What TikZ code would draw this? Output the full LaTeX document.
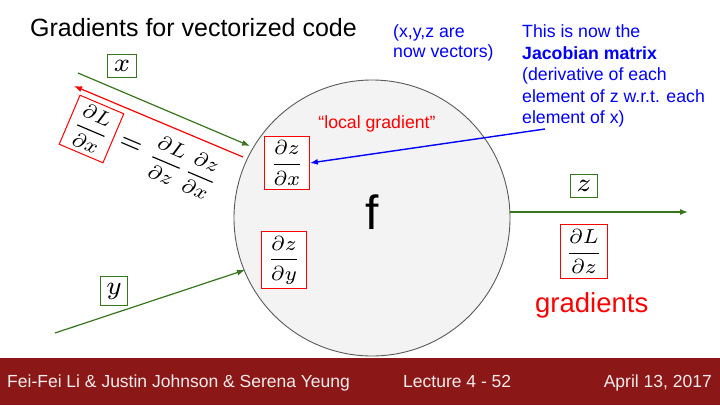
\RequirePackage{fix-cm}
\documentclass[tikz,border=0pt]{standalone}
\usepackage[no-math]{fontspec}
\setmainfont{Liberation Sans}
\usetikzlibrary{arrows.meta}
\definecolor{gr}{RGB}{56,118,29}
\definecolor{rd}{RGB}{255,0,0}
\definecolor{bl}{RGB}{0,0,255}
\definecolor{foot}{RGB}{140,23,23}
\definecolor{circfill}{RGB}{243,243,243}
\definecolor{circline}{RGB}{90,90,90}
\definecolor{foottext}{RGB}{242,236,236}
\newcommand{\myfrac}[2]{\scalebox{2.9}{\fontsize{7}{8}\selectfont$\displaystyle\frac{#1}{#2}$}}
\newcommand{\myvar}[1]{\scalebox{3.7}{\fontsize{7}{8}\selectfont$#1$}}
\tikzset{
  varbox/.style={draw=gr, line width=1pt, inner xsep=6pt, inner ysep=6pt, fill=white},
  fracbox/.style={draw=rd, line width=1pt, inner xsep=5.5pt, inner ysep=4.5pt, fill=white},
  plainfrac/.style={inner sep=0pt},
  garrow/.style={draw=gr, line width=1.2pt, -{Latex[length=8pt,width=6pt]}},
  rarrow/.style={draw=rd, line width=1.2pt, -{Latex[length=8pt,width=6pt]}},
  barrow/.style={draw=bl, line width=1.4pt, -{Latex[length=8pt,width=6pt]}},
  bluetxt/.style={anchor=base west, inner sep=0pt, text=bl, font=\fontsize{17.7}{21}\selectfont},
  foottxt/.style={inner sep=0pt, text=foottext, font=\fontsize{17.5}{21}\selectfont},
}
\begin{document}
\begin{tikzpicture}[x=1pt,y=-1pt]
\fill[white] (0,0) rectangle (720,405);
\useasboundingbox (0,0) rectangle (720,405);

% function node
\node[circle, draw=circline, fill=circfill, line width=0.9pt, minimum size=276pt, inner sep=0pt] (fcirc) at (372,218) {};
\node[anchor=base, inner sep=0pt, font=\fontsize{48}{52}\selectfont] (flabel) at (372,229) {f};

% footer
\fill[foot] (0,358) rectangle (720,405);
\node[foottxt, anchor=base west] (names) at (7,387) {Fei-Fei Li \& Justin Johnson \& Serena Yeung};
\node[foottxt, anchor=base west] (lecture) at (403,387) {Lecture 4 - 52};
\node[foottxt, anchor=base east] (date) at (712,387) {April 13, 2017};

% title
\node[anchor=base west, inner sep=0pt, font=\fontsize{25}{30}\selectfont] (title) at (30,36.7) {Gradients for vectorized code};

% blue notes
\node[bluetxt] (vec1) at (393,37.5) {(x,y,z are};
\node[bluetxt] (vec2) at (393,57.5) {now vectors)};
\node[bluetxt] (jac1) at (522,37.5) {This is now the};
\node[bluetxt, font=\fontsize{17.7}{21}\selectfont\bfseries] (jac2) at (522,59) {Jacobian matrix};
\node[bluetxt] (jac3) at (522,80.5) {(derivative of each};
\node[bluetxt] (jac4) at (522,102) {element of z w.r.t. each};
\node[bluetxt] (jac5) at (522,123.5) {element of x)};

% coordinates of free ends
\coordinate (xin) at (78,73);
\coordinate (xout) at (250,146);
\coordinate (gstart) at (243,157);
\coordinate (gend) at (74,86);
\coordinate (yin) at (55,333);
\coordinate (yout) at (245,270);
\coordinate (zin) at (510,212);
\coordinate (zout) at (688,212);
\coordinate (jacstart) at (545,129);

% arrows
\draw[garrow] (xin) -- (xout);
\draw[rarrow] (gstart) -- (gend);
\draw[garrow] (yin) -- (yout);
\draw[garrow] (zin) -- (zout);

% local gradients inside f
\node[text=rd, inner sep=0pt, anchor=base, font=\fontsize{17.7}{21}\selectfont] (localg) at (377,128) {“local gradient”};
\node[fracbox] (dzdx) at (287,163) {\myfrac{\partial z}{\partial x}};
\node[fracbox] (dzdy) at (284,260) {\myfrac{\partial z}{\partial y}};
\draw[barrow] (jacstart) -- (dzdx.east);

% variable labels
\node[varbox] (xlab) at (122,66) {\myvar{x}};
\node[varbox] (ylab) at (114,291) {\myvar{y}};
\node[varbox] (zlab) at (584,186) {\myvar{z}};

% upstream gradient
\node[fracbox] (dLdz) at (584,251.5) {\myfrac{\partial L}{\partial z}};
\node[text=rd, anchor=base west, inner sep=0pt, font=\fontsize{27.5}{32}\selectfont] (gradtxt) at (535,312) {gradients};

% rotated chain rule
\node[fracbox, rotate=-23] (dLdx) at (91.5,129) {\myfrac{\partial L}{\partial x}};
\node[plainfrac, rotate=-23] (eqsign) at (130.6,145.6) {\myvar{=}};
\node[plainfrac, rotate=-23] (cdLdz) at (166.7,160.9) {\myfrac{\partial L}{\partial z}};
\node[plainfrac, rotate=-23] (cdzdx) at (201,175.5) {\myfrac{\partial z}{\partial x}};
\end{tikzpicture}
\end{document}
